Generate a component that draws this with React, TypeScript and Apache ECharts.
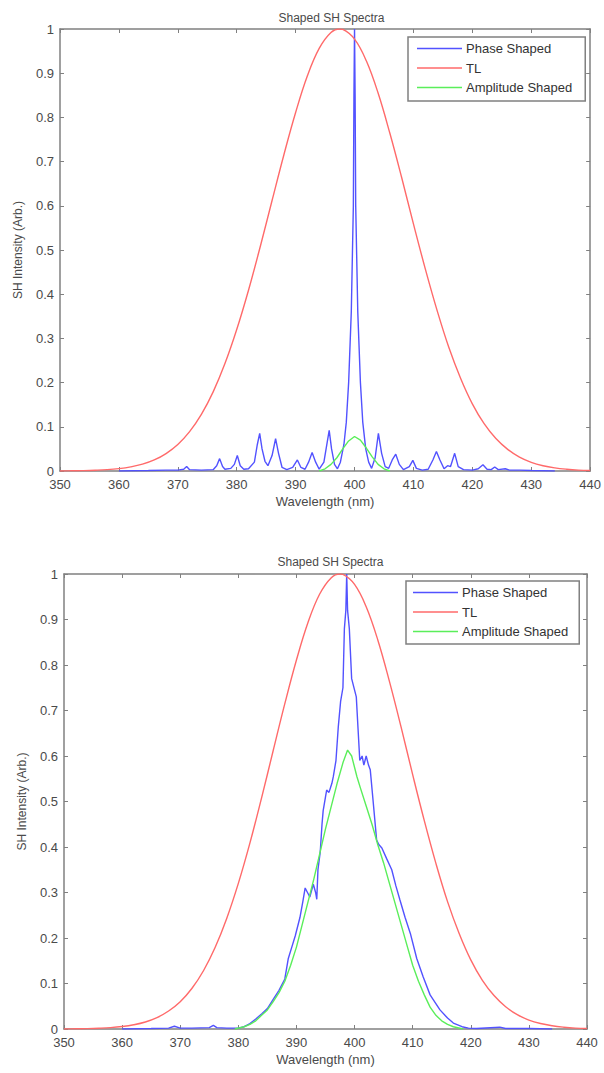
import React, { useEffect, useRef } from "react";
import * as echarts from "echarts";

// ---- Data ----
const chartTitle = "Shaped SH Spectra";
const seriesNames = ["Phase Shaped", "TL", "Amplitude Shaped"];
const xTickMin = 350;
const xTickMax = 440;

// Transform-limited (TL) spectrum, same in both panels
const tlX = [350, 352, 354, 356, 358, 360, 362, 364, 366, 368, 370, 372, 374, 376, 378, 380, 382, 384, 386, 388, 390, 392, 394, 396, 397.5, 398, 400, 402, 404, 406, 408, 410, 412, 414, 416, 418, 420, 422, 424, 426, 428, 430, 432, 434, 436, 438, 440];
const tlY = [0, 0.0005, 0.0009, 0.0017, 0.003, 0.0054, 0.0093, 0.0154, 0.025, 0.0395, 0.06, 0.089, 0.128, 0.179, 0.243, 0.32, 0.409, 0.508, 0.612, 0.715, 0.811, 0.894, 0.956, 0.992, 1.0, 0.999, 0.977, 0.928, 0.855, 0.764, 0.664, 0.559, 0.458, 0.364, 0.28, 0.21, 0.152, 0.107, 0.0735, 0.049, 0.0315, 0.0197, 0.012, 0.0071, 0.004, 0.002, 0.001];

// Top panel: phase shaped
const topPhaseX = [360, 365, 368, 370, 371, 371.5, 372, 374, 376, 376.6, 377.1, 377.6, 378, 379, 379.6, 380.1, 380.6, 381.2, 382, 383, 383.5, 383.9, 384.3, 384.8, 385.3, 386, 386.6, 387.1, 387.7, 388.5, 389.5, 390.3, 390.9, 391.6, 392.2, 392.8, 393.4, 394, 394.8, 395.3, 395.7, 396.1, 396.6, 397.1, 397.6, 398.2, 398.6, 399.0, 399.45, 399.8, 399.9, 400.0, 400.1, 400.2, 400.55, 401.0, 401.4, 401.9, 402.4, 402.9, 403.5, 404.05, 404.6, 405.2, 405.8, 406.4, 407.0, 407.6, 408.3, 409.3, 409.9, 410.5, 411.5, 412.5, 413.3, 413.9, 414.5, 415.2, 415.8, 416.3, 417.0, 417.6, 418.5, 420, 421, 421.8, 422.5, 423.2, 423.8, 424.4, 425.6, 426.3, 428, 430, 434];
const topPhaseY = [0, 0.001, 0.002, 0.002, 0.004, 0.01, 0.003, 0.002, 0.003, 0.012, 0.028, 0.01, 0.004, 0.006, 0.015, 0.035, 0.012, 0.004, 0.005, 0.02, 0.06, 0.085, 0.05, 0.022, 0.012, 0.035, 0.073, 0.04, 0.008, 0.003, 0.008, 0.025, 0.008, 0.004, 0.02, 0.042, 0.02, 0.004, 0.02, 0.06, 0.092, 0.05, 0.015, 0.005, 0.02, 0.06, 0.11, 0.2, 0.36, 0.6, 0.85, 1.0, 0.85, 0.6, 0.36, 0.2, 0.11, 0.05, 0.02, 0.006, 0.03, 0.085, 0.04, 0.01, 0.006, 0.025, 0.038, 0.015, 0.003, 0.01, 0.024, 0.006, 0.002, 0.004, 0.025, 0.044, 0.025, 0.005, 0.012, 0.01, 0.04, 0.01, 0.003, 0.002, 0.005, 0.014, 0.004, 0.003, 0.009, 0.003, 0.005, 0.002, 0.002, 0.001, 0];

// Top panel: amplitude shaped
const topAmpX = [394, 395, 396, 397, 398, 399, 400, 401, 402, 403, 404, 405, 406];
const topAmpY = [0, 0.005, 0.015, 0.03, 0.05, 0.068, 0.078, 0.07, 0.052, 0.032, 0.015, 0.005, 0];

// Bottom panel: phase shaped
const botPhaseX = [360, 365, 368, 369, 370, 372, 375, 375.7, 376.3, 378, 380, 381, 382, 383, 384, 385, 386, 387, 388, 388.6, 389.2, 389.8, 390.6, 391.1, 391.5, 391.9, 392.3, 392.9, 393.3, 393.5, 393.7, 394.1, 394.4, 394.6, 395.0, 395.2, 395.6, 396.1, 396.35, 396.8, 397.2, 397.6, 398.0, 398.25, 398.5, 398.65, 398.8, 399.1, 399.5, 400.3, 400.6, 400.9, 401.3, 401.6, 402.0, 402.4, 402.7, 403.2, 403.8, 404.2, 404.7, 405.5, 406.4, 407.1, 407.8, 408.7, 409.6, 410.7, 411.8, 413, 414.7, 416, 417, 418.5, 419.6, 421, 425, 426, 430, 434];
const botPhaseY = [0, 0.001, 0.002, 0.006, 0.002, 0.002, 0.003, 0.008, 0.003, 0.002, 0.002, 0.005, 0.012, 0.022, 0.033, 0.045, 0.065, 0.085, 0.11, 0.155, 0.18, 0.205, 0.245, 0.28, 0.31, 0.3, 0.29, 0.318, 0.3, 0.285, 0.35, 0.39, 0.45, 0.48, 0.51, 0.525, 0.52, 0.54, 0.555, 0.59, 0.664, 0.72, 0.75, 0.88, 0.92, 1.0, 0.92, 0.88, 0.77, 0.73, 0.66, 0.59, 0.6, 0.58, 0.6, 0.58, 0.57, 0.5, 0.415, 0.405, 0.398, 0.375, 0.35, 0.315, 0.284, 0.245, 0.21, 0.155, 0.115, 0.075, 0.042, 0.024, 0.013, 0.005, 0.002, 0.001, 0.004, 0.001, 0.001, 0];

// Bottom panel: amplitude shaped
const botAmpX = [379.4, 381, 382, 383, 384, 385, 386, 387, 388, 389, 390, 391, 392, 393, 394, 395, 396, 397, 398, 398.8, 399.5, 400.4, 401, 402, 403, 404, 405, 406, 407, 408, 409, 410, 411, 412, 413, 414, 415, 416, 417, 418.7];
const botAmpY = [0, 0.005, 0.01, 0.018, 0.03, 0.042, 0.06, 0.08, 0.105, 0.14, 0.18, 0.23, 0.28, 0.33, 0.385, 0.44, 0.49, 0.54, 0.585, 0.613, 0.6, 0.555, 0.53, 0.49, 0.45, 0.405, 0.365, 0.32, 0.275, 0.23, 0.185, 0.14, 0.105, 0.075, 0.048, 0.03, 0.018, 0.01, 0.005, 0];

const zip = (xs: number[], ys: number[]) => xs.map((x, i) => [x, ys[i]]);

const FONT = "'Liberation Sans', Arial, sans-serif";
const AXIS_COLOR = "#808080";
const TEXT_COLOR = "#4a4a4a";
const BLUE = "#5252ff";
const RED = "#ff6a6a";
const GREEN = "#5aee5a";

function buildPanel(gi: number, grid: any, legendPos: any, titleTop: number) {
  const axisLine = { show: true, onZero: false, lineStyle: { color: AXIS_COLOR, width: 1.5 } };
  const axisTick = { show: true, inside: true, length: 4, lineStyle: { color: AXIS_COLOR, width: 1 } };
  const xAxes = [
    {
      type: "value", gridIndex: gi, position: "bottom", min: xTickMin, max: xTickMax, interval: 10,
      axisLine, axisTick, splitLine: { show: false },
      axisLabel: { color: TEXT_COLOR, fontSize: 13, fontFamily: FONT, margin: 7 },
      name: "Wavelength (nm)", nameLocation: "middle", nameGap: 24,
      nameTextStyle: { color: TEXT_COLOR, fontSize: 13, fontFamily: FONT, verticalAlign: "top" },
    },
    {
      type: "value", gridIndex: gi, position: "top", min: xTickMin, max: xTickMax, interval: 10,
      axisLine, axisTick, splitLine: { show: false }, axisLabel: { show: false },
    },
  ];
  const yAxes = [
    {
      type: "value", gridIndex: gi, position: "left", min: 0, max: 1, interval: 0.1,
      axisLine, axisTick, splitLine: { show: false },
      axisLabel: { color: TEXT_COLOR, fontSize: 13, fontFamily: FONT, margin: 6 },
      name: "SH Intensity (Arb.)", nameLocation: "middle", nameGap: 36,
      nameTextStyle: { color: TEXT_COLOR, fontSize: 12, fontFamily: FONT },
    },
    {
      type: "value", gridIndex: gi, position: "right", min: 0, max: 1, interval: 0.1,
      axisLine, axisTick, splitLine: { show: false }, axisLabel: { show: false },
    },
  ];
  const title = {
    text: chartTitle, left: grid.left + grid.width / 2, top: titleTop, textAlign: "center",
    textStyle: { color: TEXT_COLOR, fontSize: 12, fontWeight: "normal", fontFamily: FONT },
  };
  const legend = {
    ...legendPos,
    orient: "vertical",
    data: seriesNames,
    icon: "rect",
    itemWidth: 45,
    itemHeight: 1.6,
    itemGap: 6.5,
    backgroundColor: "#ffffff",
    borderColor: AXIS_COLOR,
    borderWidth: 1.5,
    borderRadius: 0,
    textStyle: { color: "#333333", fontSize: 13, fontFamily: FONT, padding: [0, 0, 0, -1] },
    selectedMode: false,
  };
  return { xAxes, yAxes, title, legend };
}

export default function App() {
  const ref = useRef<HTMLDivElement>(null);
  useEffect(() => {
    if (!ref.current) return;
    const chart = echarts.init(ref.current, undefined, { renderer: "svg" });
    const g0 = { left: 60, top: 29, width: 533, height: 442 };
    const g1 = { left: 64, top: 574, width: 523, height: 455 };
    const p0 = buildPanel(0, g0, { left: 408, top: 37, padding: [5, 13, 7, 9] }, 7);
    const p1 = buildPanel(1, g1, { left: 406, top: 581, padding: [5, 11, 6, 7] }, 551);

    const mk = (name: string, color: string, data: number[][], xi: number, yi: number, z: number, smooth: any = false) => ({
      name, type: "line", data, xAxisIndex: xi, yAxisIndex: yi, showSymbol: false, symbol: "none",
      smooth, z, lineStyle: { color, width: 1.4 }, itemStyle: { color }, emphasis: { disabled: true },
    });

    chart.setOption({
      animation: false,
      backgroundColor: "#ffffff",
      title: [p0.title, p1.title],
      legend: [p0.legend, p1.legend],
      grid: [
        { ...g0, containLabel: false },
        { ...g1, containLabel: false },
      ],
      xAxis: [...p0.xAxes, ...p1.xAxes],
      yAxis: [...p0.yAxes, ...p1.yAxes],
      series: [
        mk("Phase Shaped", BLUE, zip(topPhaseX, topPhaseY), 0, 0, 2),
        mk("TL", RED, zip(tlX, tlY), 0, 0, 2, 0.4),
        mk("Amplitude Shaped", GREEN, zip(topAmpX, topAmpY), 0, 0, 3),
        mk("Phase Shaped", BLUE, zip(botPhaseX, botPhaseY), 2, 2, 2),
        mk("TL", RED, zip(tlX, tlY), 2, 2, 2, 0.4),
        mk("Amplitude Shaped", GREEN, zip(botAmpX, botAmpY), 2, 2, 3),
      ],
    });
    return () => chart.dispose();
  }, []);
  return (
    <div
      ref={ref}
      style={{ position: "absolute", left: 0, top: 0, width: 604, height: 1073, background: "#fff" }}
    />
  );
}
